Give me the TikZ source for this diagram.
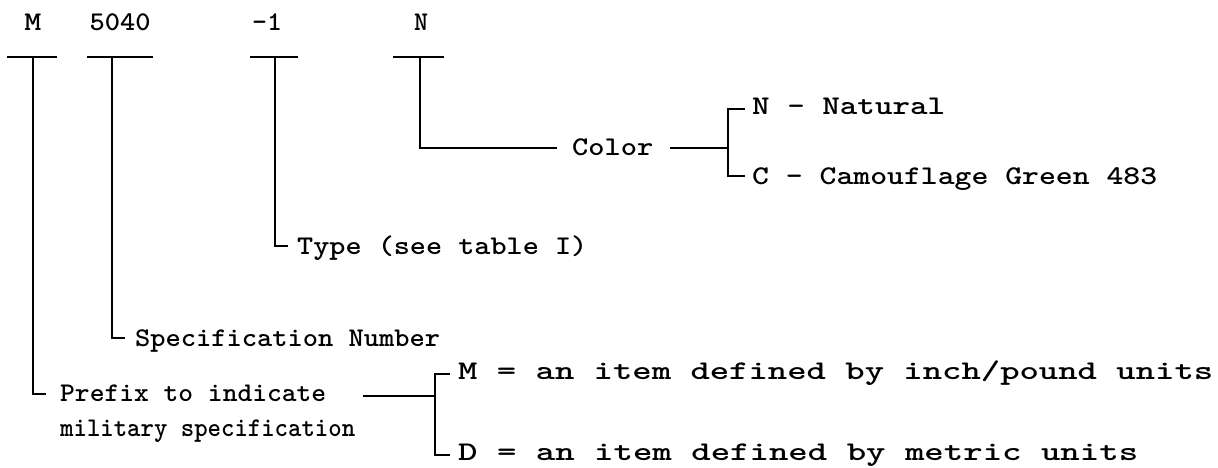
\documentclass[tikz,border=0pt]{standalone}
\usepackage{graphicx}
\newcommand\fw[2]{\resizebox{#1pt}{\height}{#2}}
\begin{document}
\begin{tikzpicture}[x=1pt,y=-1pt,
  ln/.style={line width=2.2pt,line cap=butt,line join=miter},
  lbl/.style={inner sep=0pt,font=\ttfamily\bfseries\fontsize{27}{31}\selectfont,anchor=base west},
  top/.style={lbl,anchor=base}]
\useasboundingbox (0,0) rectangle (1218,468);
% top labels
\node[top] (lM) at (33,31) {\fw{17}{M}};
\node[top] (l5040) at (120,31) {\fw{61}{5040}};
\node[top] (l1) at (267,31) {\fw{30}{-1}};
\node[top] (lN) at (421,31) {\fw{14}{N}};
% bars
\coordinate (bM1) at (7,57);   \coordinate (bM2) at (57,57);
\coordinate (b51) at (87,57);  \coordinate (b52) at (153,57);
\coordinate (b11) at (250,57); \coordinate (b12) at (298,57);
\coordinate (bN1) at (393,57); \coordinate (bN2) at (444,57);
\draw[ln] (bM1) -- (bM2);
\draw[ln] (b51) -- (b52);
\draw[ln] (b11) -- (b12);
\draw[ln] (bN1) -- (bN2);
% stems
\coordinate (tM) at (33,57);  \coordinate (cM) at (33,394);  \coordinate (eM) at (46,394);
\coordinate (t5) at (112,57); \coordinate (c5) at (112,338); \coordinate (e5) at (125,338);
\coordinate (t1) at (275,57); \coordinate (c1) at (275,246); \coordinate (e1) at (288,246);
\coordinate (tN) at (420,57); \coordinate (cN) at (420,148); \coordinate (eN) at (557,148);
\draw[ln] (tM) -- (cM) -- (eM);
\draw[ln] (t5) -- (c5) -- (e5);
\draw[ln] (t1) -- (c1) -- (e1);
\draw[ln] (tN) -- (cN) -- (eN);
% labels
\node[lbl] (color) at (572,156) {\fw{81}{Color}};
\node[lbl] (type) at (297,254) {\fw{290}{Type (see table I)}};
\node[lbl] (spec) at (135,346) {\fw{305}{Specification Number}};
\node[lbl] (pre1) at (60,401) {\fw{266}{Prefix to indicate}};
\node[lbl] (pre2) at (60,436) {\fw{295}{military specification}};
% color bracket
\coordinate (cl1) at (670,148); \coordinate (cbm) at (728,148);
\coordinate (cbt1) at (745,109); \coordinate (cbt) at (728,109);
\coordinate (cbb) at (728,176); \coordinate (cbb1) at (745,176);
\draw[ln] (cl1) -- (cbm);
\draw[ln] (cbt1) -- (cbt) -- (cbb) -- (cbb1);
\node[lbl] (nat) at (752,115) {\fw{193}{N - Natural}};
\node[lbl] (cam) at (752,184) {\fw{405}{C - Camouflage Green 483}};
% prefix bracket
\coordinate (pl1) at (363,396); \coordinate (pbm) at (435,396);
\coordinate (pbt1) at (450,374); \coordinate (pbt) at (435,374);
\coordinate (pbb) at (435,455); \coordinate (pbb1) at (450,455);
\draw[ln] (pl1) -- (pbm);
\draw[ln] (pbt1) -- (pbt) -- (pbb) -- (pbb1);
\node[lbl] (mopt) at (458,379) {\fw{755}{M = an item defined by inch/pound units}};
\node[lbl] (dopt) at (458,460) {\fw{680}{D = an item defined by metric units}};
\end{tikzpicture}
\end{document}
